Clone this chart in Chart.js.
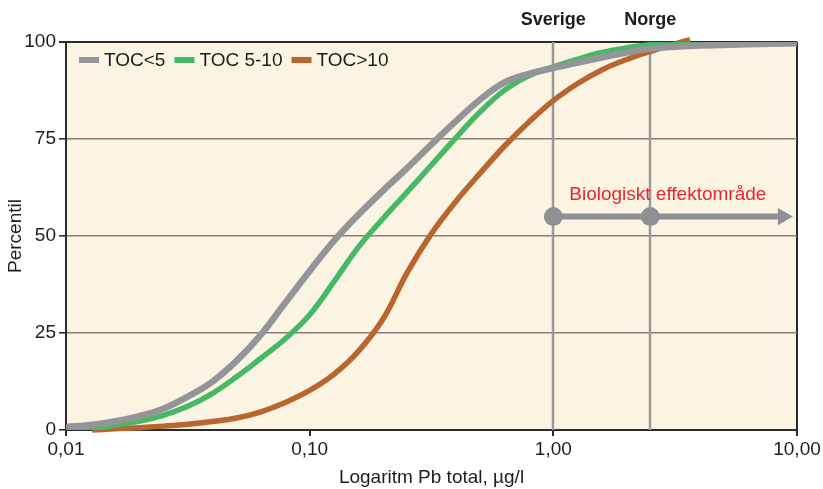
<!DOCTYPE html>
<html>
<head>
<meta charset="utf-8">
<script src="https://cdn.jsdelivr.net/npm/chart.js@4.4.1/dist/chart.umd.min.js"></script>
<style>
  html, body { margin: 0; padding: 0; background: #fff; }
  canvas { display: block; }
</style>
</head>
<body>
<canvas id="pbChart" width="823" height="489"></canvas>
<script>
// ---- data ----
const seriesLabels = ["TOC<5", "TOC 5-10", "TOC>10"];

// Pb-halter (µg/l) där kurvorna avlästs
const pbSteps = [0.01, 0.0126, 0.0158, 0.02, 0.0251, 0.0316, 0.0398, 0.0501, 0.0631, 0.0794, 0.1, 0.126, 0.158, 0.2, 0.251, 0.316, 0.398, 0.501, 0.631, 0.794, 1, 1.26, 1.58, 2, 2.51, 3.16, 3.98, 6.31, 10];

// TOC<5
const tocLowPct = [0.8, 1.3, 2.2, 3.6, 5.5, 8.6, 12.4, 17.8, 24.6, 32.8, 41, 48.8, 55.4, 61.7, 67.5, 73.6, 79.6, 85.2, 89.6, 91.8, 93.3, 94.7, 96, 97.3, 98.3, 98.8, 99.1, 99.4, 99.7];

// TOC 5-10
const tocMidPct = [0, 0.4, 1.2, 2.3, 3.8, 6.1, 9.4, 13.7, 18.5, 23.5, 29.7, 38.3, 47, 54.5, 61.3, 68.3, 75.3, 82, 87.6, 91.3, 93.6, 95.6, 97.3, 98.5, 99.3, 99.7, 99.9, 100, 100];

// TOC>10
const tocHighPb = [0.0128, 0.0158, 0.02, 0.0251, 0.0316, 0.0398, 0.0501, 0.0631, 0.0794, 0.1, 0.126, 0.158, 0.2, 0.251, 0.316, 0.398, 0.501, 0.631, 0.794, 1, 1.26, 1.58, 2, 2.51, 3.16, 3.64];
const tocHighPct = [0, 0.3, 0.6, 1.0, 1.5, 2.2, 3.1, 4.7, 7.1, 10.2, 14.4, 20.2, 28.6, 40.5, 50.6, 58.9, 66.2, 73.2, 79.4, 84.9, 89.3, 92.8, 95.5, 97.6, 99.5, 100.6];

// gränsvärden och effektområde
const markerPb = [1, 2.5];
const markerLabels = ["Sverige", "Norge"];
const effectPb = [1, 2.5, 8.75];
const effectPct = 55;
const effectLabel = "Biologiskt effektområde";

const xTickValues = [0.01, 0.1, 1, 10];
const xTickLabels = ["0,01", "0,10", "1,00", "10,00"];
const yTicks = [0, 25, 50, 75, 100];

const colors = ["#939598", "#47b865", "#b9652f"];
const textColor = "#1f1c1d";
const fontFamily = "'Liberation Sans', Arial, sans-serif";

function toPoints(xs, ys) {
    return xs.map((x, i) => ({ x: x, y: Array.isArray(ys) ? ys[i] : ys }));
}

// ---- plugins ----
const plotBackground = {
    id: "plotBackground",
    beforeDraw(chart) {
        const { ctx, chartArea: a } = chart;
        ctx.save();
        ctx.fillStyle = "#fcf4e3";
        ctx.fillRect(a.left, a.top, a.right - a.left, a.bottom - a.top);
        ctx.restore();
    },
};

const markerLines = {
    id: "markerLines",
    beforeDatasetsDraw(chart) {
        const { ctx, chartArea: a, scales } = chart;
        ctx.save();
        ctx.strokeStyle = "#9a9a9c";
        ctx.lineWidth = 2.5;
        markerPb.forEach((v) => {
            const px = Math.round(scales.x.getPixelForValue(v));
            ctx.beginPath();
            ctx.moveTo(px, a.top);
            ctx.lineTo(px, a.bottom);
            ctx.stroke();
        });
        ctx.restore();
    },
    afterDraw(chart) {
        const { ctx, scales } = chart;
        ctx.save();
        ctx.font = "bold 18px " + fontFamily;
        ctx.fillStyle = textColor;
        ctx.textAlign = "center";
        ctx.textBaseline = "middle";
        markerPb.forEach((v, i) => {
            ctx.fillText(markerLabels[i], scales.x.getPixelForValue(v), 20);
        });
        // röd text ovanför pilen
        ctx.font = "19px " + fontFamily;
        ctx.fillStyle = "#e8262d";
        ctx.fillText(effectLabel, scales.x.getPixelForValue(2.95), scales.y.getPixelForValue(60.6));
        ctx.restore();
    },
};

const insideLegend = {
    id: "insideLegend",
    afterDraw(chart) {
        const { ctx } = chart;
        ctx.save();
        ctx.font = "19px " + fontFamily;
        ctx.textBaseline = "middle";
        ctx.textAlign = "left";
        let x = 79;
        seriesLabels.forEach((label, i) => {
            ctx.fillStyle = colors[i];
            ctx.fillRect(x, 57, 20, 6);
            ctx.fillStyle = textColor;
            ctx.fillText(label, x + 25, 60.5);
            x += 25 + ctx.measureText(label).width + 9;
        });
        ctx.restore();
    },
};

// ---- chart ----
Chart.defaults.font.family = fontFamily;
Chart.defaults.font.size = 19;
Chart.defaults.color = textColor;

new Chart(document.getElementById("pbChart"), {
    type: "line",
    data: {
        datasets: [
            {
                label: seriesLabels[0],
                data: toPoints(pbSteps, tocLowPct),
                borderColor: colors[0],
                borderWidth: 6.5,
            },
            {
                label: seriesLabels[1],
                data: toPoints(pbSteps, tocMidPct),
                borderColor: colors[1],
                borderWidth: 5.5,
            },
            {
                label: seriesLabels[2],
                data: toPoints(tocHighPb, tocHighPct),
                borderColor: colors[2],
                borderWidth: 5.5,
                clip: 8,
            },
            {
                label: effectLabel,
                data: toPoints(effectPb, effectPct),
                borderColor: "#8f9094",
                borderWidth: 6,
                pointStyle: ["circle", "circle", "triangle"],
                pointRotation: [0, 0, 90],
                pointRadius: [9.5, 9.5, 10],
                pointBackgroundColor: "#8f9094",
                pointBorderWidth: 0,
                tension: 0,
            },
        ],
    },
    options: {
        responsive: false,
        animation: false,
        events: [],
        layout: { padding: { top: 42, right: 26, left: 0, bottom: 0 } },
        elements: {
            point: { radius: 0 },
            line: { tension: 0.4, borderCapStyle: "butt", borderJoinStyle: "round" },
        },
        scales: {
            x: {
                type: "logarithmic",
                min: 0.01,
                max: 10,
                afterBuildTicks: (scale) => {
                    scale.ticks = xTickValues.map((v) => ({ value: v }));
                },
                afterFit: (scale) => { scale.height = 59; },
                ticks: {
                    autoSkip: false,
                    maxRotation: 0,
                    padding: 2,
                    color: textColor,
                    callback: (value, index) => xTickLabels[index],
                },
                grid: {
                    color: (c) => (c.tick && c.tick.value === 10 ? "#2b2b2b" : "rgba(0,0,0,0)"),
                    lineWidth: 2,
                    tickColor: "#2b2b2b",
                    tickLength: 6,
                },
                border: { color: "#2b2b2b", width: 2 },
                title: {
                    display: true,
                    text: "Logaritm Pb total, µg/l",
                    color: textColor,
                    padding: { top: 0, bottom: 0 },
                },
            },
            y: {
                min: 0,
                max: 100,
                afterBuildTicks: (scale) => {
                    scale.ticks = yTicks.map((v) => ({ value: v }));
                },
                afterFit: (scale) => { scale.width = 66; },
                ticks: { padding: 3, color: textColor },
                grid: {
                    color: (c) => {
                        const v = c.tick ? c.tick.value : null;
                        if (v === 100) return "#2b2b2b";
                        if (v === 0) return "rgba(0,0,0,0)";
                        return "#877d75";
                    },
                    lineWidth: (c) => (c.tick && c.tick.value === 100 ? 2 : 1.6),
                    tickColor: "#2b2b2b",
                    tickLength: 7,
                },
                border: { color: "#2b2b2b", width: 2 },
                title: {
                    display: true,
                    text: "Percentil",
                    color: textColor,
                    padding: { top: 4, bottom: 0 },
                },
            },
        },
        plugins: {
            legend: { display: false },
            tooltip: { enabled: false },
        },
    },
    plugins: [plotBackground, markerLines, insideLegend],
});
</script>
</body>
</html>
